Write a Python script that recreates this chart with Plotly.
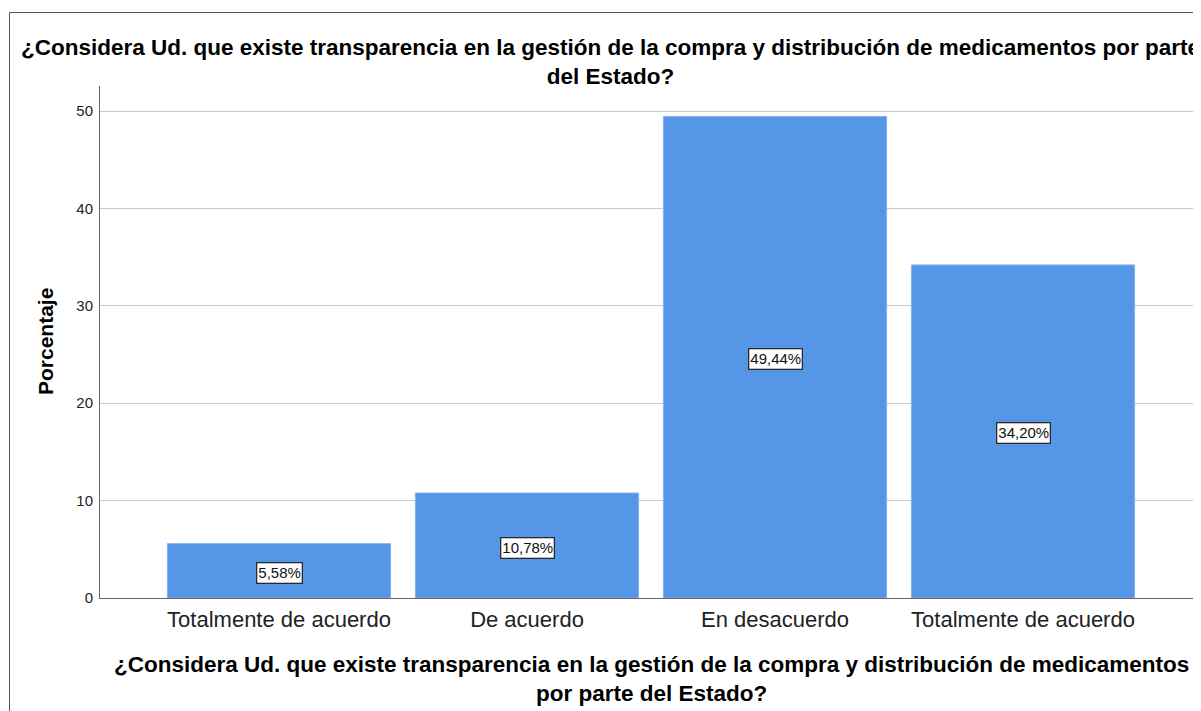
import plotly.graph_objects as go

categories = ["Totalmente de acuerdo", "De acuerdo", "En desacuerdo", "Totalmente de acuerdo"]
values = [5.58, 10.78, 49.44, 34.20]
value_labels = ["5,58%", "10,78%", "49,44%", "34,20%"]
y_ticks = [0, 10, 20, 30, 40, 50]
title_text = ("¿Considera Ud. que existe transparencia en la gestión de la compra y distribución de medicamentos por parte"
              "<br>del Estado?")
x_title_text = ("¿Considera Ud. que existe transparencia en la gestión de la compra y distribución de medicamentos"
                "<br>por parte del Estado?")
y_title_text = "Porcentaje"

OFF = 8  # page body margin
W, H = 1201 - OFF, 711 - OFF
L, T = 100 - OFF, 86 - OFF
R = 0
B = H - (598 - OFF)
PW = W - L - R
PH = H - T - B

def px_x(px):  # screen px -> paper
    return (px - OFF - L) / PW

def px_y(py):
    return (H - B - (py - OFF)) / PH

FONT = "Liberation Sans, Arial"
xpos = list(range(len(categories)))

fig = go.Figure()
fig.add_trace(go.Bar(
    x=xpos, y=values, width=0.9,
    marker=dict(color="#5596e6", line=dict(color="#86b2ec", width=1)),
    hoverinfo="skip",
))

for xi, v, lab in zip(xpos, values, value_labels):
    fig.add_annotation(
        x=xi, y=v / 2, text=lab, showarrow=False, yshift=-2,
        font=dict(family=FONT, size=15, color="#111"),
        bgcolor="white", bordercolor="#2a2a2a", borderwidth=1.3, borderpad=1,
    )

fig.add_annotation(
    x=px_x(610), y=px_y(62), xref="paper", yref="paper", text=title_text,
    showarrow=False, xanchor="center", yanchor="middle",
    font=dict(family=FONT, size=22.5, color="black", weight="bold"),
)
fig.add_annotation(
    x=px_x(651.5), y=px_y(679), xref="paper", yref="paper", text=x_title_text,
    showarrow=False, xanchor="center", yanchor="middle",
    font=dict(family=FONT, size=22.5, color="black", weight="bold"),
)
fig.add_annotation(
    x=px_x(45), y=px_y(342), xref="paper", yref="paper", text=y_title_text,
    showarrow=False, xanchor="center", yanchor="middle", textangle=-90,
    font=dict(family=FONT, size=21, color="black", weight="bold"),
)

# outer frame (left and top edges visible)
fig.add_shape(type="line", xref="paper", yref="paper",
              x0=px_x(9.5), x1=px_x(9.5), y0=px_y(12.5), y1=px_y(730),
              line=dict(color="#555", width=1))
fig.add_shape(type="line", xref="paper", yref="paper",
              x0=px_x(9.5), x1=px_x(1230), y0=px_y(12.5), y1=px_y(12.5),
              line=dict(color="#555", width=1))

c0 = 279 - OFF
step = 248
fig.update_xaxes(
    range=[(L - c0) / step, (W - R - c0) / step],
    tickmode="array", tickvals=xpos, ticktext=categories,
    showgrid=False, zeroline=False,
    showline=True, linecolor="#666", linewidth=1,
    ticks="", ticklabelstandoff=2,
    tickfont=dict(family=FONT, size=22, color="#222"),
)
fig.update_yaxes(
    range=[0, 50 + (111 - 86) / 9.74],
    tickmode="array", tickvals=y_ticks,
    showgrid=True, gridcolor="#c8c8c8", gridwidth=1,
    zeroline=False, showline=True, linecolor="#666", linewidth=1,
    ticks="", ticklabelstandoff=3,
    tickfont=dict(family=FONT, size=15, color="#222"),
)
fig.update_layout(
    width=W, height=H, autosize=False,
    margin=dict(l=L, r=R, t=T, b=B, pad=0),
    paper_bgcolor="white", plot_bgcolor="white",
    showlegend=False, bargap=0.1,
)
fig.write_html("out.html")
